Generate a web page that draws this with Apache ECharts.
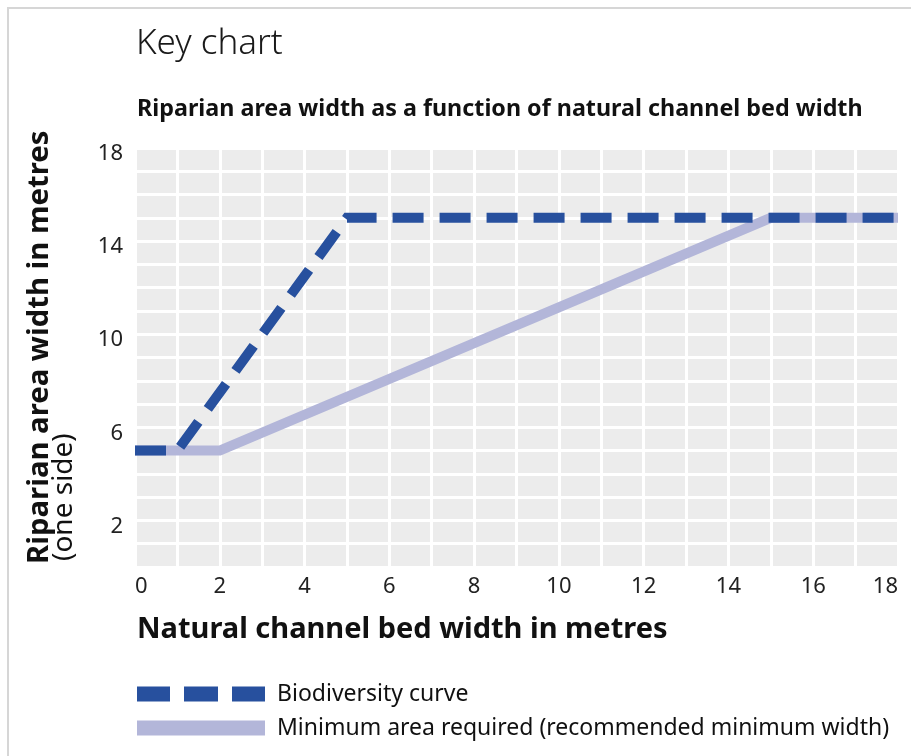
<!DOCTYPE html>
<html>
<head>
<meta charset="utf-8">
<script src="https://cdn.jsdelivr.net/npm/echarts@6/dist/echarts.min.js"></script>
<style>
html,body{margin:0;padding:0;background:#fff;}
#chart{width:911px;height:756px;}
</style>
</head>
<body>
<div id="chart"></div>
<script>
var FONT = '"Noto Sans", "Open Sans", sans-serif';
var chartTitle = 'Key chart';
var chartSubtitle = 'Riparian area width as a function of natural channel bed width';
var xAxisTitle = 'Natural channel bed width in metres';
var yAxisTitle = 'Riparian area width in metres';
var yAxisSubTitle = '(one side)';
var seriesNames = ['Biodiversity curve', 'Minimum area required (recommended minimum width)'];

var biodiversityX = [0, 1, 5, 18];
var biodiversityY = [5, 5, 15, 15];
var minimumX = [0, 2, 15, 18];
var minimumY = [5, 5, 15, 15];

var xTickLabels = [0, 2, 4, 6, 8, 10, 12, 14, 16, 18];
var yTickLabels = [2, 6, 10, 14, 18];

function pairs(xs, ys) {
  return xs.map(function (x, i) { return [x, ys[i]]; });
}

var BLUE = '#27509e';
var LILAC = '#b3b6d9';

var chart = echarts.init(document.getElementById('chart'), null, {renderer: 'canvas'});
chart.setOption({
  backgroundColor: '#ffffff',
  animation: false,
  textStyle: {fontFamily: FONT},
  title: [
    {text: chartTitle, left: 131, top: 22,
     textStyle: {fontFamily: FONT, fontSize: 35, fontWeight: 300, color: '#1a1a1a'}},
    {text: chartSubtitle, left: 132, top: 93,
     textStyle: {fontFamily: FONT, fontSize: 23.3, fontWeight: 'bold', color: '#111'}}
  ],
  grid: {left: 135, right: 13, top: 148, bottom: 189, show: true,
         backgroundColor: '#ececec', borderWidth: 0},
  xAxis: {
    type: 'value', min: 0, max: 18, interval: 1,
    axisLine: {show: false}, axisTick: {show: false},
    splitLine: {show: true, lineStyle: {color: '#ffffff', width: 3}},
    axisLabel: {
      fontFamily: FONT, fontSize: 22, color: '#222', margin: 9,
      alignMinLabel: 'left', alignMaxLabel: 'right',
      formatter: function (v) { return xTickLabels.indexOf(v) >= 0 ? String(v) : ''; }
    }
  },
  yAxis: {
    type: 'value', min: 0, max: 18, interval: 1,
    axisLine: {show: false}, axisTick: {show: false},
    splitLine: {show: true, lineStyle: {color: '#ffffff', width: 3}},
    axisLabel: {
      fontFamily: FONT, fontSize: 22, color: '#222', margin: 12,
      verticalAlign: 'top', lineHeight: 12,
      formatter: function (v) { return yTickLabels.indexOf(v) >= 0 ? String(v) : ''; }
    }
  },
  legend: {
    orient: 'vertical', left: 132, top: 677,
    itemWidth: 128, itemHeight: 15, itemGap: 10,
    itemStyle: {borderWidth: 0},
    textStyle: {fontFamily: FONT, fontSize: 23, lineHeight: 24, color: '#111', padding: [0, 0, 0, 7]},
    data: [
      {name: seriesNames[0], icon: 'path://M0,0h33v15h-33zM47,0h34v15h-34zM95,0h33v15h-33z'},
      {name: seriesNames[1], icon: 'rect'}
    ]
  },
  series: [
    {
      name: seriesNames[1], type: 'line', data: pairs(minimumX, minimumY),
      symbol: 'none', z: 2,
      itemStyle: {color: LILAC},
      lineStyle: {color: LILAC, width: 10, cap: 'butt', join: 'miter'}
    },
    {
      name: seriesNames[0], type: 'line', data: pairs(biodiversityX, biodiversityY),
      symbol: 'none', z: 3,
      itemStyle: {color: BLUE},
      lineStyle: {color: BLUE, width: 10, type: [31, 16], cap: 'butt', join: 'miter'}
    }
  ],
  graphic: [
    {type: 'rect', z: -10, silent: true,
     shape: {x: 8, y: 8, width: 940, height: 790},
     style: {fill: 'none', stroke: '#d6d6d6', lineWidth: 2}},
    {type: 'text', x: 137, y: 630,
     style: {text: xAxisTitle, font: 'bold 29px ' + FONT, fill: '#111',
             textAlign: 'left', textVerticalAlign: 'middle'}},
    {type: 'text', x: 25, y: 564, rotation: Math.PI / 2,
     style: {text: yAxisTitle, font: 'bold 29.3px ' + FONT, fill: '#111',
             textAlign: 'left', textVerticalAlign: 'top'}},
    {type: 'text', x: 50, y: 561, rotation: Math.PI / 2,
     style: {text: yAxisSubTitle, font: '28px ' + FONT, fill: '#111',
             textAlign: 'left', textVerticalAlign: 'top'}}
  ]
});
</script>
</body>
</html>
